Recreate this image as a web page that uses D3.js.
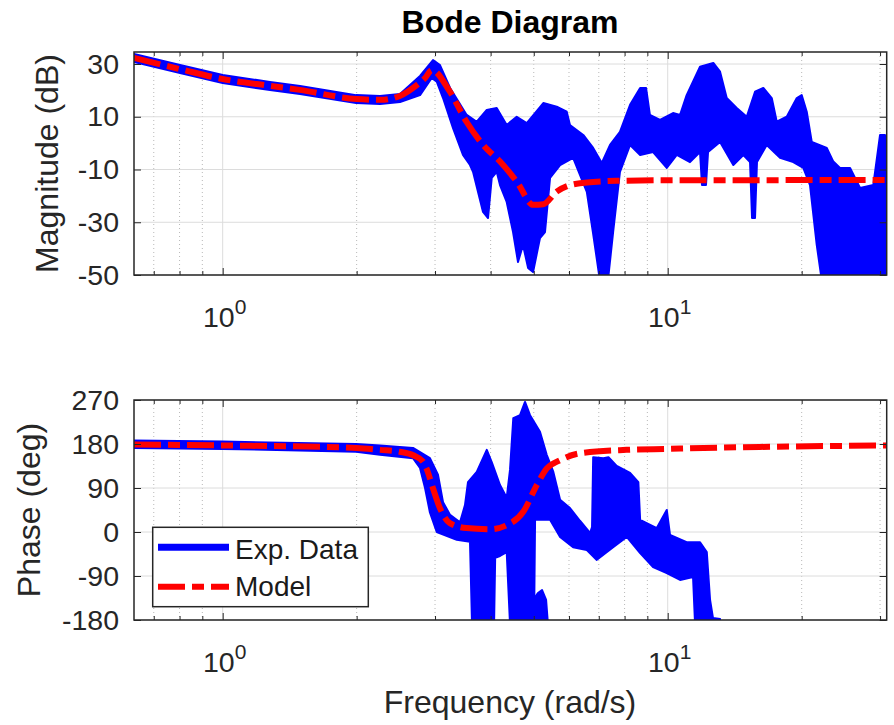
<!DOCTYPE html>
<html>
<head>
<meta charset="utf-8">
<script src="https://cdn.jsdelivr.net/npm/d3@7"></script>
<style>
  body { margin: 0; background: #fff; }
  svg { display: block; font-family: "Liberation Sans", Arial, Helvetica, sans-serif; }
</style>
</head>
<body>
<svg id="chart" width="894" height="725"></svg>
<script>
// ---- ticks ----
const freqMajor = [1, 10];
const freqMinor = [0.7, 0.8, 0.9, 2, 3, 4, 5, 6, 7, 8, 9, 20, 30];
const magTicks = [-50, -30, -10, 10, 30];
const phaseTicks = [-180, -90, 0, 90, 180, 270];

// ---- model (red dash-dot) ----
const modelMagFreq = [0.632, 0.8, 1.0, 1.28, 1.49, 2.0, 2.26, 2.5, 2.73, 2.85, 2.95, 3.24, 3.53, 3.85, 4.2, 4.58, 4.99, 5.25, 5.63, 6.35, 7.68, 10, 31.05];
const modelMagDb = [32.3, 28.1, 24.3, 21.7, 20.2, 16.7, 16.4, 17.9, 22.0, 24.7, 27.7, 19.5, 8.1, -0.7, -7.0, -14.6, -23.4, -23.2, -18.4, -15.2, -14.3, -14.1, -14.0];

const modelPhFreq = [0.632, 1.0, 2.0, 2.26, 2.5, 2.68, 2.82, 2.87, 2.97, 3.08, 3.24, 3.53, 3.98, 4.35, 4.74, 5.08, 5.35, 5.73, 6.35, 8.08, 9.95, 16.1, 31.05];
const modelPhDeg = [179, 177, 172, 168, 164, 157, 144, 130, 89, 48, 18, 8, 5.5, 14, 42, 96, 130, 147, 161, 168, 170, 174, 177];

// ---- experimental data (blue), upper / lower envelope of the trace ----
const expMagHiFreq = [0.632, 0.802, 1.0, 1.277, 1.492, 1.994, 2.257, 2.503, 2.776, 2.969, 3.078, 3.243, 3.534, 3.723, 3.921, 4.128, 4.347, 4.578, 4.822, 5.253, 5.63, 5.93, 6.03, 6.46, 6.80, 7.11, 7.42, 7.81, 8.23, 8.67, 8.94, 9.12, 9.61, 10.28, 10.66, 11.03, 11.82, 12.66, 13.11, 13.57, 14.29, 15.05, 15.71, 16.40, 17.13, 17.58, 18.51, 19.50, 20.00, 20.53, 21.07, 22.77, 23.56, 24.39, 25.69, 27.05, 28.97, 30.0, 30.78, 31.05];
const expMagHiDb = [33.8, 29.6, 25.8, 23.2, 21.7, 18.2, 17.9, 18.6, 25.5, 31.5, 29.6, 20.9, 10.7, 8.1, 12.6, 13.3, 6.9, 10.0, 7.6, 15.2, 13.8, 11.9, 6.9, 3.1, -1.8, -7.5, -0.7, 4.3, 14.5, 20.9, 20.9, 10.7, 8.8, 11.4, 10.7, 18.2, 29.0, 30.4, 27.1, 17.1, 13.3, 10.0, 19.5, 20.9, 17.1, 8.1, 10.0, 17.1, 18.2, 11.9, 0.5, -1.8, -7.0, -9.4, -9.4, -17.0, -15.9, 3.1, 3.1, -10.2];

const expMagLoFreq = [0.632, 0.802, 1.0, 1.277, 1.492, 1.994, 2.257, 2.503, 2.776, 2.949, 3.027, 3.127, 3.293, 3.467, 3.595, 3.652, 3.748, 3.846, 3.947, 4.023, 4.128, 4.199, 4.347, 4.492, 4.609, 4.730, 4.855, 4.982, 5.164, 5.30, 5.44, 5.73, 6.13, 6.58, 6.79, 7.04, 7.34, 7.54, 7.81, 8.23, 8.67, 9.27, 9.95, 10.48, 11.22, 11.82, 11.94, 12.19, 12.32, 13.11, 14.04, 14.79, 15.31, 15.47, 15.71, 15.87, 16.69, 17.88, 19.15, 20.17, 20.88, 21.62, 22.19, 31.05];
const expMagLoDb = [30.8, 26.6, 22.8, 20.1, 18.6, 15.2, 14.8, 15.6, 18.2, 24.7, 23.3, 17.1, 5.7, -4.5, -8.3, -10.9, -18.5, -26.1, -28.4, -13.2, -10.9, -15.9, -22.3, -33.7, -45.1, -38.6, -47.3, -48.9, -36.0, -33.7, -13.2, -8.3, -5.6, -18.5, -33.7, -52, -52, -33.7, -10.9, -0.7, -4.5, -3.4, -9.4, -4.5, -7.2, -3.4, -15.9, -15.9, -3.4, 0.4, -8.3, -4.5, -7.2, -28.4, -28.4, -7.2, -0.7, -5.6, -7.2, -9.4, -15.9, -38.6, -52, -52];

const expPhHiFreq = [0.632, 1.0, 1.994, 2.257, 2.677, 2.922, 3.046, 3.127, 3.243, 3.414, 3.503, 3.558, 3.723, 3.921, 4.023, 4.199, 4.347, 4.422, 4.498, 4.657, 4.779, 4.905, 5.164, 5.347, 5.533, 5.73, 6.03, 6.35, 6.69, 6.76, 6.80, 7.17, 7.36, 7.68, 8.23, 8.59, 8.67, 9.45, 9.95, 10.12, 11.03, 11.82, 12.24, 12.45, 12.64, 13.11];
const expPhHiDeg = [187, 185, 180, 177, 172, 151, 117, 61, 35, 20, 55, 102, 123, 168, 143, 96, 70, 127, 233, 239, 266, 239, 205, 158, 123, 66, 49, 23, -2, 10, 153, 151, 153, 135, 121, 102, 25, 8, 45, -6, -21, -21, -41, -139, -176, -178];

const expPhLoFreq = [0.632, 1.0, 1.994, 2.257, 2.677, 2.776, 2.849, 2.922, 3.027, 3.357, 3.595, 3.633, 4.072, 4.095, 4.199, 4.347, 4.422, 5.008, 5.034, 5.44, 5.73, 6.13, 6.58, 6.92, 7.54, 8.09, 8.67, 9.27, 9.95, 10.66, 11.40, 11.52, 13.11];
const expPhLoDeg = [172, 170, 164, 158, 151, 131, 90, 40, 0, -16, -20, -188, -188, -53, -49, -41, -188, -188, 25, 25, -10, -31, -37, -57, -31, -10, -43, -72, -84, -98, -92, -188, -188];

// small piece of the trace wrapping near -180 deg
const expPhBlobFreq = [4.98, 5.11, 5.22, 5.33, 5.38];
const expPhBlobHi = [-139, -125, -119, -139, -188];
const expPhBlobLo = [-188, -188, -188, -188, -188];

const legendNames = ['Exp. Data', 'Model'];

// ---- layout ----
const svg = d3.select('#chart');
const left = 134, right = 886.7;
const mag = { top: 52, bottom: 275 };
const ph = { top: 400, bottom: 620 };
const ink = '#262626';
const blue = '#0000ff', red = '#ff0000';
const modelDash = '27,7,12,7';

const x = d3.scaleLog().domain([0.632, 31.05]).range([left, right]);
const yMag = d3.scaleLinear().domain([-50, 34.55]).range([mag.bottom, mag.top]);
const yPh = d3.scaleLinear().domain([-180, 270]).range([ph.bottom, ph.top]);

const zip = (a, b) => a.map((v, i) => [v, b[i]]);

function band(g, y, hiF, hiV, loF, loV) {
  let pts = zip(hiF, hiV).concat(zip(loF, loV).reverse());
  let line = d3.line().x(d => x(d[0])).y(d => y(d[1]));
  g.append('path')
    .attr('d', line(pts) + 'Z')
    .attr('fill', blue)
    .attr('stroke', blue)
    .attr('stroke-width', 2)
    .attr('stroke-linejoin', 'round');
}

function panel(box, y, ticks, id) {
  let h = box.bottom - box.top;
  let g = svg.append('g');

  // grid
  g.selectAll('.vmin').data(freqMinor).enter().append('line')
    .attr('x1', d => x(d)).attr('x2', d => x(d))
    .attr('y1', box.top).attr('y2', box.bottom)
    .attr('stroke', '#b8b8b8').attr('stroke-width', 1).attr('stroke-dasharray', '1,3');
  g.selectAll('.vmaj').data(freqMajor).enter().append('line')
    .attr('x1', d => x(d)).attr('x2', d => x(d))
    .attr('y1', box.top).attr('y2', box.bottom)
    .attr('stroke', '#dcdcdc').attr('stroke-width', 1);
  g.selectAll('.hmaj').data(ticks).enter().append('line')
    .attr('x1', left).attr('x2', right)
    .attr('y1', d => y(d)).attr('y2', d => y(d))
    .attr('stroke', '#dcdcdc').attr('stroke-width', 1);

  svg.append('clipPath').attr('id', id)
    .append('rect').attr('x', left).attr('y', box.top)
    .attr('width', right - left).attr('height', h);
  let plot = svg.append('g').attr('clip-path', `url(#${id})`);

  // axes ticks (inward on all sides)
  let axG = svg.append('g').attr('color', ink);
  axG.append('g').attr('transform', `translate(0,${box.bottom})`)
    .call(d3.axisBottom(x).tickValues(freqMajor).tickSize(-7).tickFormat(''));
  axG.append('g').attr('transform', `translate(0,${box.bottom})`)
    .call(d3.axisBottom(x).tickValues(freqMinor).tickSize(-4).tickFormat(''));
  axG.append('g').attr('transform', `translate(0,${box.top})`)
    .call(d3.axisTop(x).tickValues(freqMajor).tickSize(-7).tickFormat(''));
  axG.append('g').attr('transform', `translate(0,${box.top})`)
    .call(d3.axisTop(x).tickValues(freqMinor).tickSize(-4).tickFormat(''));
  axG.append('g').attr('transform', `translate(${right},0)`)
    .call(d3.axisRight(y).tickValues(ticks).tickSize(-7).tickFormat(''));
  axG.append('g').attr('transform', `translate(${left},0)`)
    .call(d3.axisLeft(y).tickValues(ticks).tickSize(-7).tickPadding(15).tickFormat(d => String(d)))
    .call(a => a.selectAll('text').attr('font-size', 28.5).attr('fill', ink)
      .attr('font-family', '"Liberation Sans", Arial, sans-serif'));
  axG.selectAll('.domain').remove();

  // x tick labels 10^n
  let lab = svg.append('g');
  freqMajor.forEach(f => {
    let t = lab.append('text')
      .attr('x', x(f) + 2).attr('y', box.bottom + 52)
      .attr('text-anchor', 'middle').attr('font-size', 28.5).attr('fill', ink);
    t.append('tspan').text('10');
    t.append('tspan').attr('font-size', 21).attr('dy', -13).text(String(Math.round(Math.log10(f))));
  });

  // box
  svg.append('rect').attr('x', left).attr('y', box.top)
    .attr('width', right - left).attr('height', h)
    .attr('fill', 'none').attr('stroke', ink).attr('stroke-width', 1.5);

  return plot;
}

let magPlot = panel(mag, yMag, magTicks, 'clipMag');
let phPlot = panel(ph, yPh, phaseTicks, 'clipPh');

band(magPlot, yMag, expMagHiFreq, expMagHiDb, expMagLoFreq, expMagLoDb);
band(phPlot, yPh, expPhHiFreq, expPhHiDeg, expPhLoFreq, expPhLoDeg);
band(phPlot, yPh, expPhBlobFreq, expPhBlobHi, expPhBlobFreq, expPhBlobLo);

let modelLine = (y) => d3.line().x(d => x(d[0])).y(d => y(d[1])).curve(d3.curveMonotoneX);
magPlot.append('path')
  .attr('d', modelLine(yMag)(zip(modelMagFreq, modelMagDb)))
  .attr('fill', 'none').attr('stroke', red).attr('stroke-width', 6)
  .attr('stroke-dasharray', modelDash);
phPlot.append('path')
  .attr('d', modelLine(yPh)(zip(modelPhFreq, modelPhDeg)))
  .attr('fill', 'none').attr('stroke', red).attr('stroke-width', 6)
  .attr('stroke-dasharray', modelDash);

// titles / labels
svg.append('text').attr('x', 510).attr('y', 33).attr('text-anchor', 'middle')
  .attr('font-size', 32).attr('font-weight', 'bold').attr('fill', '#000')
  .text('Bode Diagram');
svg.append('text').attr('transform', `translate(58,${(mag.top + mag.bottom) / 2}) rotate(-90)`)
  .attr('text-anchor', 'middle').attr('font-size', 32).attr('fill', ink)
  .text('Magnitude (dB)');
svg.append('text').attr('transform', `translate(40,${(ph.top + ph.bottom) / 2}) rotate(-90)`)
  .attr('text-anchor', 'middle').attr('font-size', 32).attr('fill', ink)
  .text('Phase (deg)');
svg.append('text').attr('x', 510).attr('y', 713).attr('text-anchor', 'middle')
  .attr('font-size', 32).attr('fill', ink)
  .text('Frequency (rad/s)');

// legend
let lg = svg.append('g');
lg.append('rect').attr('x', 152.7).attr('y', 527.3).attr('width', 215.6).attr('height', 79.4)
  .attr('fill', '#fff').attr('stroke', ink).attr('stroke-width', 1.5);
lg.append('line').attr('x1', 158).attr('x2', 229).attr('y1', 547.3).attr('y2', 547.3)
  .attr('stroke', blue).attr('stroke-width', 7);
lg.append('line').attr('x1', 158).attr('x2', 229).attr('y1', 586.7).attr('y2', 586.7)
  .attr('stroke', red).attr('stroke-width', 6).attr('stroke-dasharray', modelDash);
lg.selectAll('.lt').data(legendNames).enter().append('text')
  .attr('x', 235).attr('y', (d, i) => i ? 595.5 : 558.5)
  .attr('font-size', 28).attr('fill', '#1a1a1a')
  .text(d => d);
</script>
</body>
</html>
